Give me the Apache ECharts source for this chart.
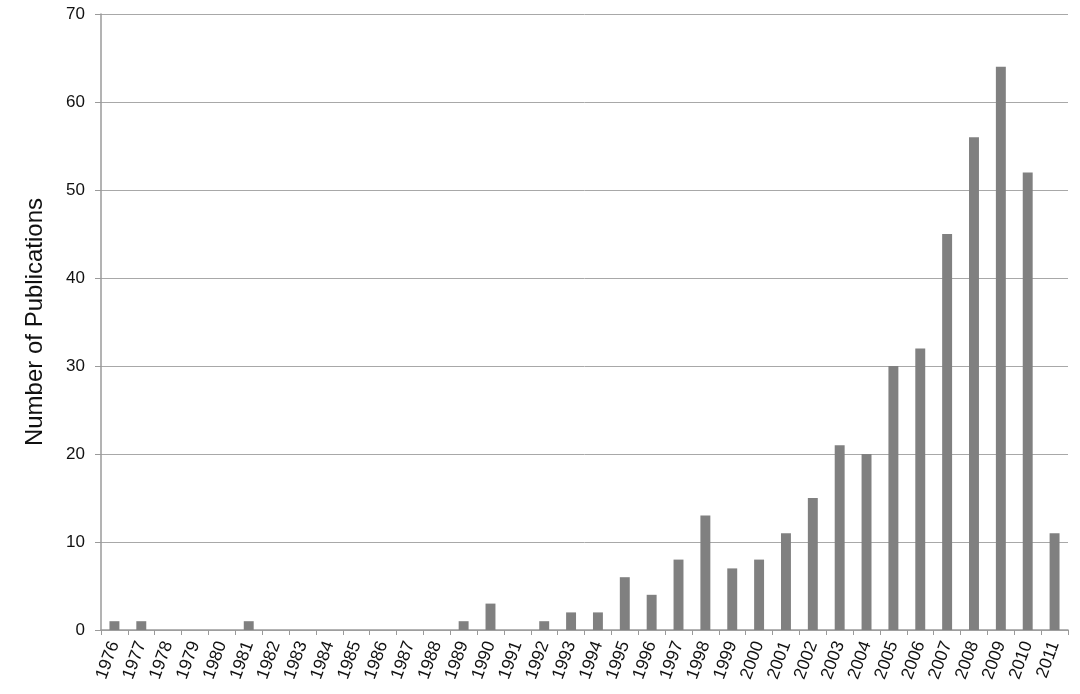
<!DOCTYPE html>
<html><head><meta charset="utf-8">
<script src="https://cdn.jsdelivr.net/npm/echarts@6/dist/echarts.min.js"></script>
<style>html,body{margin:0;padding:0;background:#fff}#c{width:1080px;height:694px}</style>
</head><body><div id="c"></div>
<script>
const years = ['1976','1977','1978','1979','1980','1981','1982','1983','1984','1985','1986','1987','1988','1989','1990','1991','1992','1993','1994','1995','1996','1997','1998','1999','2000','2001','2002','2003','2004','2005','2006','2007','2008','2009','2010','2011'];
const publications = [1,1,0,0,0,1,0,0,0,0,0,0,0,1,3,0,1,2,2,6,4,8,13,7,8,11,15,21,20,30,32,45,56,64,52,11];
const yTicks = [0,10,20,30,40,50,60,70];
const font = 'Liberation Sans, Arial, Helvetica, sans-serif';
const chart = echarts.init(document.getElementById('c'));
chart.setOption({
  animation:false,
  grid:{left:101,right:12,top:14,bottom:64,containLabel:false},
  xAxis:{type:'category',data:years,
    axisLine:{lineStyle:{color:'#9a9a9a',width:1.5}},
    axisTick:{show:true,length:5,lineStyle:{color:'#9a9a9a'}},
    axisLabel:{rotate:70,interval:0,fontFamily:font,fontSize:17.5,color:'#111',margin:12}},
  yAxis:{type:'value',min:yTicks[0],max:yTicks[yTicks.length-1],interval:10,
    name:'Number of Publications',nameLocation:'middle',nameGap:54,
    nameTextStyle:{fontFamily:font,fontSize:24,color:'#111'},
    axisLine:{show:true,lineStyle:{color:'#9a9a9a',width:1.5}},
    axisTick:{show:true,length:6,lineStyle:{color:'#9a9a9a'}},
    splitLine:{lineStyle:{color:'#a8a8a8',width:1}},
    axisLabel:{fontFamily:font,fontSize:17,color:'#111',margin:16}},
  series:[{type:'bar',data:publications,barWidth:'37%',itemStyle:{color:'#808080'}}]
});
</script></body></html>
